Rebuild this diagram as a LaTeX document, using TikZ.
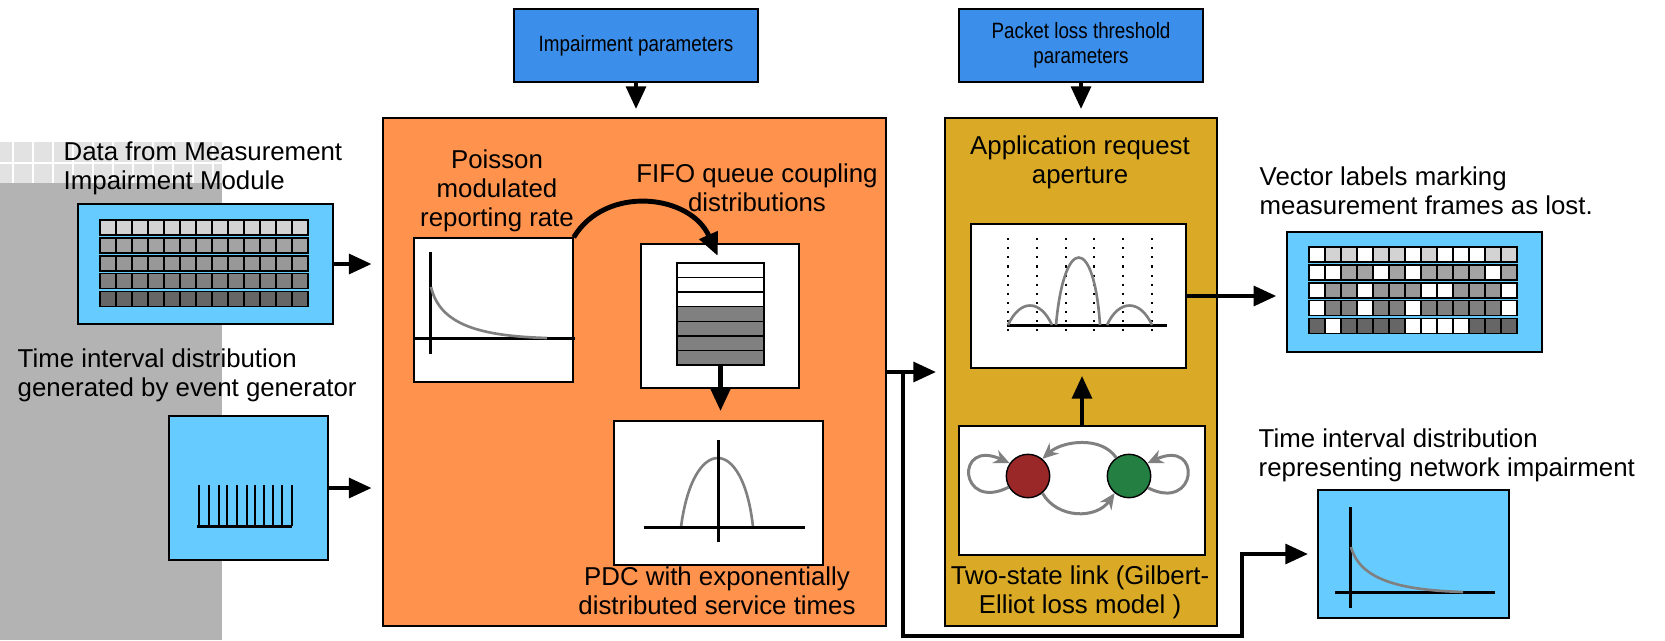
\documentclass[tikz,border=0pt]{standalone}
\usepackage{fontspec}
\setmainfont{Liberation Sans}
\newfontfamily\narrowfont[FakeStretch=0.85]{Liberation Sans}
\usepackage{tikz}
\usetikzlibrary{arrows.meta, positioning, calc}
\definecolor{cSky}{RGB}{102,204,255}
\definecolor{cParam}{RGB}{59,142,234}
\definecolor{cOrange}{RGB}{255,146,77}
\definecolor{cGold}{RGB}{218,170,38}
\definecolor{cBad}{RGB}{155,40,40}
\definecolor{cGood}{RGB}{35,128,66}
\definecolor{cShade}{RGB}{179,179,179}
\definecolor{cTile}{RGB}{226,226,226}
\definecolor{gA}{RGB}{211,211,211}
\definecolor{gB}{RGB}{163,163,163}
\definecolor{gC}{RGB}{152,152,152}
\definecolor{gD}{RGB}{128,128,128}
\definecolor{gE}{RGB}{102,102,102}
\tikzset{
	panel/.style    ={rectangle, draw=black, line width=0.4pt, inner sep=0pt},
	plotbox/.style  ={panel, fill=white},
	skybox/.style   ={panel, fill=cSky},
	parambox/.style ={panel, fill=cParam, align=center, font=\narrowfont\fontsize{6.3}{7.2}\selectfont},
	lbl/.style      ={inner sep=0pt, align=center, font=\fontsize{7.35}{8.3}\selectfont},
	flow/.style     ={-{Triangle[length=6.5pt, width=5.5pt]}, line width=1.4pt},
	gflow/.style    ={-{Stealth[length=4.5pt, width=4pt]}, line width=0.85pt, draw=gD},
	% small plot styles
	axis/.style     ={line width=0.85pt},
	curve/.style    ={line width=0.75pt, draw=gD},
	cell/.style     ={draw=black, line width=0.4pt},
	state/.style    ={circle, draw=black, line width=0.4pt, minimum size=4.34mm, inner sep=0pt},
}
\begin{document}
\begin{tikzpicture}[x=0.1mm, y=-0.1mm]
	\useasboundingbox (0,0) rectangle (1665,640);
	% shaded strip on the left
	\fill[cShade] (0,183) rectangle (222,640);
	\fill[cTile] (0,142) rectangle (222,183);
	\foreach \gx in {13,33,...,213} \draw[white, line width=0.5pt] (\gx,142) -- (\gx,183);
	\draw[white, line width=0.5pt] (0,163) -- (222,163);

	\node[skybox, minimum width=25.5mm, minimum height=12mm] (data) at (205.5,264) {};
	\node[skybox, minimum width=15.9mm, minimum height=14.4mm] (gen) at (248.5,488) {};
	\node[parambox, minimum width=24.4mm, minimum height=7.3mm] (impair) at (636,45.5) {Impairment parameters};
	\node[parambox, minimum width=24.4mm, minimum height=7.3mm] (thresh) at (1081,45.5) {Packet loss threshold\\parameters};
	\node[panel, fill=cOrange, minimum width=50.3mm, minimum height=50.8mm] (queue) at (634.5,372) {};
	\node[plotbox, minimum width=15.9mm, minimum height=14.4mm] (poisson) at (493.5,310) {};
	\node[plotbox, minimum width=15.8mm, minimum height=14.4mm] (fifo) at (720,316) {};
	\node[plotbox, minimum width=20.9mm, minimum height=14.4mm] (pdc) at (718.5,493) {};
	\node[panel, fill=cGold, minimum width=27.2mm, minimum height=50.8mm] (loss) at (1081,372) {};
	\node[plotbox, minimum width=21.5mm, minimum height=14.4mm] (aperture) at (1078.5,296) {};
	\node[plotbox, minimum width=24.6mm, minimum height=12.9mm] (gilbert) at (1082,490.5) {};
	\node[skybox, minimum width=25.5mm, minimum height=12mm] (vector) at (1414.5,292) {};
	\node[skybox, minimum width=19.1mm, minimum height=12.8mm] (netdist) at (1413.5,554) {};

	% measurement frames
	\foreach \c [count=\r from 0] in {gA,gB,gC,gD,gE}
		\foreach \k in {0,...,12}
			\draw[cell, fill=\c] (100+16*\k, 220+17.9*\r) rectangle ++(16,15);
	% frames with lost ones in white
	\foreach \c/\w [count=\r from 0] in {gA/{1,0,0,1,0,0,1,0,1,1,1,0,0}, gB/{1,1,0,0,1,0,1,0,0,0,0,1,0}, gC/{1,0,0,1,0,0,0,1,1,0,0,0,1}, gD/{1,0,0,1,0,0,1,0,0,0,0,0,1}, gE/{0,1,0,0,0,0,1,1,1,1,0,0,0}}
		\foreach \v [count=\k from 0] in \w {
			\ifnum\v=1 \def\tint{white}\else\edef\tint{\c}\fi
			\draw[cell, fill=\tint] (1309+16*\k, 247+17.9*\r) rectangle ++(16,15);
		}

	% event generator
	\draw[axis] (197,526) -- (292,526);
	\foreach \tx in {199,209,219,227,237,247,255,264,273,282,292} \draw[line width=0.35pt] (\tx,485) -- (\tx,526);

	% queue
	\node[panel, minimum width=8.7mm, minimum height=10.2mm] (stack) at (720.5,314) {};
	\foreach \k in {0,...,6} {
		\ifnum\k<3 \def\tint{white}\else\def\tint{gD}\fi
		\draw[cell, fill=\tint] (677,263+14.57*\k) rectangle ++(87,14.57);
	}

	% plots
	\draw[axis] (430,252) -- (430,354);
	\draw[axis] (414,338) -- (575,338);
	\draw[curve] (431,287) .. controls (440,325) and (480,336) .. (547,338);
	\draw[curve] (681,527) .. controls (693,435) and (743,435) .. (753,527);
	\draw[axis] (718,440) -- (718,542);
	\draw[axis] (644,527) -- (805,527);
	\foreach \dx in {1008,1037,1066,1094,1123,1152} \draw[dotted, line width=0.6pt] (\dx,238) -- (\dx,338);
	\draw[axis] (1007,325) -- (1167,325);
	\draw[curve] (1008,325) .. controls (1020,299) and (1040,299) .. (1052,325);
	\draw[curve] (1056,325) .. controls (1064,235) and (1094,235) .. (1100,325);
	\draw[curve] (1107,325) .. controls (1119,299) and (1140,299) .. (1152,325);
	\draw[axis] (1350,507) -- (1350,608);
	\draw[axis] (1335,592) -- (1495,592);
	\draw[curve] (1351,547) .. controls (1360,580) and (1400,590) .. (1463,592);

	% two states
	\node[state, fill=cBad] (bad) at (1028,476) {};
	\node[state, fill=cGood] (good) at (1129,476) {};
	\draw[gflow] (good.125) .. controls +(-15,-22) and +(20,-18) .. (bad.50);
	\draw[gflow] (bad.-50) .. controls +(15,26) and +(-18,26) .. (good.230);
	\draw[gflow] (bad.210) .. controls +(-50,25) and +(-55,-25) .. (bad.145);
	\draw[gflow] (good.-32) .. controls +(50,25) and +(55,-25) .. (good.35);

	% connectors
	\draw[flow, shorten >=3pt] (data.east) -- (data.east -| queue.west);
	\draw[flow, shorten >=3pt] (gen.east) -- (gen.east -| queue.west);
	\draw[flow, shorten >=2.3pt] (impair.south) -- (impair.south |- queue.north);
	\draw[flow, shorten >=2.3pt] (thresh.south) -- (thresh.south |- loss.north);
	\draw[flow, shorten >=2pt] (poisson.north east) .. controls +(32,-53) and +(-30,-68) .. (stack.north);
	\draw[flow, shorten >=2.6pt] (stack.south) -- (stack.south |- pdc.north);
	\draw[flow, shorten >=2pt] (gilbert.north) -- (gilbert.north |- aperture.south);
	\draw[flow, shorten >=2.8pt] (aperture.east) -- (aperture.east -| vector.west);
	\coordinate (tap) at (903,372);
	\coordinate (low) at (1242,636);
	\draw[flow, shorten >=2.3pt] (queue.east) -- (loss.west);
	\draw[flow, shorten >=2.6pt] (tap) |- (low) |- (netdist.west);

	% labels
	\node[lbl, anchor=north west, align=left] (datalbl) at (63,141) {Data from Measurement\\Impairment Module};
	\node[lbl, anchor=north west, align=left] (genlbl) at (17,348) {Time interval distribution\\generated by event generator};
	\node[lbl, anchor=north] (poissonlbl) at (497,149) {Poisson\\modulated\\reporting rate};
	\node[lbl, anchor=north] (fifolbl) at (757,163) {FIFO queue coupling\\distributions};
	\node[lbl, anchor=north] (pdclbl) at (717,566) {PDC with exponentially\\distributed service times};
	\node[lbl, anchor=north] (aperturelbl) at (1080,135) {Application request\\aperture};
	\node[lbl, anchor=north] (gilbertlbl) at (1080,565) {Two-state link (Gilbert-\\Elliot loss model )};
	\node[lbl, anchor=north west, align=left] (vectorlbl) at (1259,166) {Vector labels marking\\measurement frames as lost.};
	\node[lbl, anchor=north west, align=left] (netlbl) at (1258,428) {Time interval distribution\\representing network impairment};
\end{tikzpicture}
\end{document}
